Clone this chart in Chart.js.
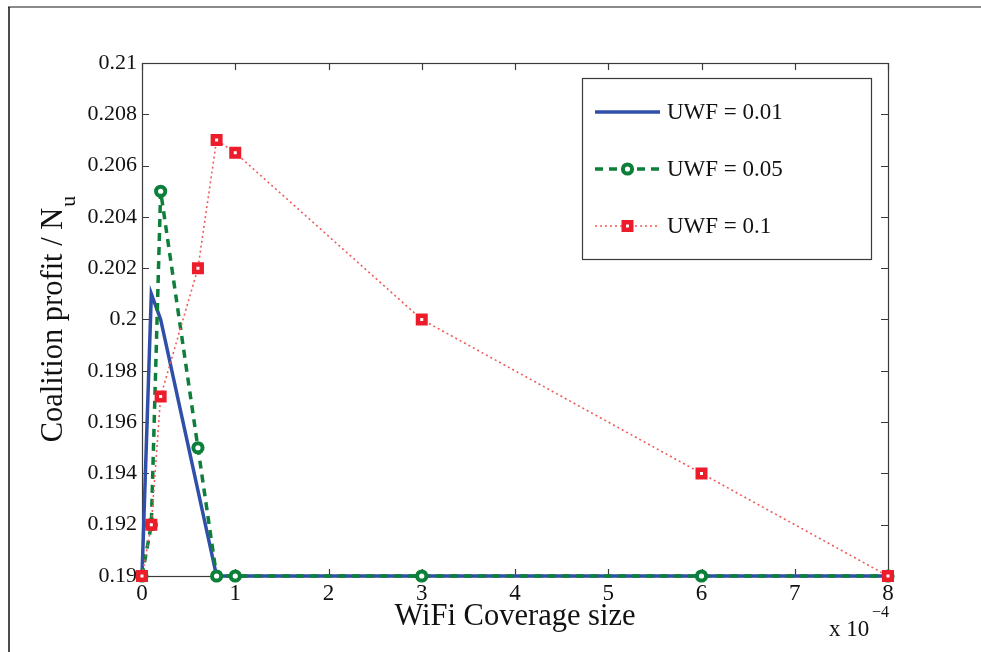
<!DOCTYPE html>
<html>
<head>
<meta charset="utf-8">
<script src="https://cdn.jsdelivr.net/npm/chart.js@4.4.1/dist/chart.umd.min.js"></script>
<style>
  html, body { margin: 0; padding: 0; background: #ffffff; }
  #wrap { width: 981px; height: 652px; position: relative; }
</style>
</head>
<body>
<div id="wrap"><canvas id="c" width="981" height="652"></canvas></div>
<script>
// WiFi coverage size (units of 1e-4) and coalition profit per user
const xUwf001 = [0, 0.1, 0.2, 0.8, 1, 3, 6, 8];
const yUwf001 = [0.19, 0.201, 0.2, 0.19, 0.19, 0.19, 0.19, 0.19];

const xUwf005 = [0, 0.1, 0.2, 0.6, 0.8, 1, 3, 6, 8];
const yUwf005 = [0.19, 0.192, 0.205, 0.195, 0.19, 0.19, 0.19, 0.19, 0.19];

const xUwf01 = [0, 0.1, 0.2, 0.6, 0.8, 1, 3, 6, 8];
const yUwf01 = [0.19, 0.192, 0.197, 0.202, 0.207, 0.2065, 0.2, 0.194, 0.19];

const seriesNames = ['UWF = 0.01', 'UWF = 0.05', 'UWF = 0.1'];
const xTicks = [0, 1, 2, 3, 4, 5, 6, 7, 8];
const yTicks = [0.19, 0.192, 0.194, 0.196, 0.198, 0.2, 0.202, 0.204, 0.206, 0.208, 0.21];
const xTitle = 'WiFi Coverage size';
const yTitleMain = 'Coalition profit / N';
const yTitleSub = 'u';
const xExponent = '\u22124';

const SERIF = '"Liberation Serif", "DejaVu Serif", serif';
const BLUE = '#2f4fa8';
const GREEN = '#0c7f3a';
const RED = '#ec1c2a';
const RED_LINE = '#f05a5a';

function pts(xs, ys) { return xs.map((x, i) => ({ x: x, y: ys[i] })); }

// Page frame, axes box with inward ticks, titles and legend
const decor = {
  id: 'decor',
  beforeDatasetsDraw(chart) {
    const ctx = chart.ctx;
    const a = chart.chartArea;
    const xs = chart.scales.x, ys = chart.scales.y;
    ctx.save();
    // page frame
    ctx.strokeStyle = '#8a8a8a';
    ctx.lineWidth = 2;
    ctx.beginPath(); ctx.moveTo(8, 7); ctx.lineTo(981, 7); ctx.stroke();
    ctx.strokeStyle = '#111111';
    ctx.lineWidth = 1.5;
    ctx.beginPath(); ctx.moveTo(9, 7); ctx.lineTo(9, 652); ctx.stroke();
    // axes box
    ctx.strokeStyle = '#3a3a3a';
    ctx.lineWidth = 1.2;
    ctx.strokeRect(Math.round(a.left) + 0.5, Math.round(a.top) + 0.5,
                   Math.round(a.right - a.left), Math.round(a.bottom - a.top));
    // inward ticks
    const L = 7;
    ctx.beginPath();
    xTicks.forEach(v => {
      const px = Math.round(xs.getPixelForValue(v)) + 0.5;
      ctx.moveTo(px, a.bottom); ctx.lineTo(px, a.bottom - L);
      ctx.moveTo(px, a.top); ctx.lineTo(px, a.top + L);
    });
    yTicks.forEach(v => {
      const py = Math.round(ys.getPixelForValue(v)) + 0.5;
      ctx.moveTo(a.left, py); ctx.lineTo(a.left + L, py);
      ctx.moveTo(a.right, py); ctx.lineTo(a.right - L, py);
    });
    ctx.stroke();
    ctx.restore();
  },
  afterDraw(chart) {
    const ctx = chart.ctx;
    const a = chart.chartArea;
    ctx.save();
    ctx.fillStyle = '#111111';
    // x title
    ctx.font = '30.5px ' + SERIF;
    ctx.textAlign = 'center';
    ctx.textBaseline = 'alphabetic';
    ctx.fillText(xTitle, (a.left + a.right) / 2, 625);
    // exponent note
    ctx.font = '23px ' + SERIF;
    ctx.textAlign = 'left';
    ctx.fillText('x 10', 829, 636);
    ctx.font = '16px ' + SERIF;
    ctx.fillText(xExponent, 872, 617);
    // y title with subscript
    ctx.translate(62, (a.top + a.bottom) / 2);
    ctx.rotate(-Math.PI / 2);
    ctx.font = '30.5px ' + SERIF;
    const wMain = ctx.measureText(yTitleMain).width;
    ctx.font = '22px ' + SERIF;
    const wSub = ctx.measureText(yTitleSub).width;
    const start = -(wMain + wSub) / 2;
    ctx.font = '30.5px ' + SERIF;
    ctx.fillText(yTitleMain, start, 0);
    ctx.font = '22px ' + SERIF;
    ctx.fillText(yTitleSub, start + wMain + 1, 13);
    ctx.restore();

    // legend
    const box = { l: 582, t: 78, r: 871, b: 259 };
    ctx.save();
    ctx.fillStyle = '#ffffff';
    ctx.fillRect(box.l, box.t, box.r - box.l, box.b - box.t);
    ctx.strokeStyle = '#3a3a3a';
    ctx.lineWidth = 1.2;
    ctx.strokeRect(box.l + 0.5, box.t + 0.5, box.r - box.l, box.b - box.t);
    const rows = [112, 169, 226];
    const x0 = 595, x1 = 660;
    chart.data.datasets.forEach((ds, i) => {
      const y = rows[i];
      ctx.save();
      ctx.strokeStyle = ds.borderColor;
      ctx.lineWidth = ds.borderWidth;
      ctx.setLineDash(ds.borderDash || []);
      ctx.beginPath(); ctx.moveTo(x0, y); ctx.lineTo(x1, y); ctx.stroke();
      ctx.setLineDash([]);
      if (ds.pointRadius > 0) {
        ctx.fillStyle = ds.pointBackgroundColor;
        ctx.strokeStyle = ds.pointBorderColor;
        ctx.lineWidth = ds.pointBorderWidth;
        ctx.beginPath();
        if (ds.pointStyle === 'rect') {
          const s = ds.pointRadius * Math.SQRT1_2;
          ctx.rect((x0 + x1) / 2 - s, y - s, 2 * s, 2 * s);
        } else {
          ctx.arc((x0 + x1) / 2, y, ds.pointRadius, 0, Math.PI * 2);
        }
        ctx.fill(); ctx.stroke();
      }
      ctx.restore();
      ctx.fillStyle = '#111111';
      ctx.font = '23px ' + SERIF;
      ctx.textAlign = 'left';
      ctx.textBaseline = 'middle';
      ctx.fillText(seriesNames[i], 667, y + 1);
    });
    ctx.restore();
  }
};

new Chart(document.getElementById('c'), {
  type: 'line',
  data: {
    datasets: [
      {
        label: seriesNames[0],
        data: pts(xUwf001, yUwf001),
        borderColor: BLUE,
        borderWidth: 3.5,
        pointRadius: 0,
        pointStyle: 'circle',
        tension: 0,
        clip: false,
        order: 2
      },
      {
        label: seriesNames[1],
        data: pts(xUwf005, yUwf005),
        borderColor: GREEN,
        borderWidth: 3.5,
        borderDash: [8, 6],
        pointStyle: 'circle',
        pointRadius: 4.6,
        pointBorderWidth: 4,
        pointBorderColor: GREEN,
        pointBackgroundColor: '#ffffff',
        tension: 0,
        clip: false,
        order: 1
      },
      {
        label: seriesNames[2],
        data: pts(xUwf01, yUwf01),
        borderColor: RED_LINE,
        borderWidth: 1.6,
        borderDash: [2, 3],
        pointStyle: 'rect',
        pointRadius: 5.3,
        pointBorderWidth: 4.5,
        pointBorderColor: RED,
        pointBackgroundColor: '#ffffff',
        tension: 0,
        clip: false,
        order: 0
      }
    ]
  },
  options: {
    responsive: false,
    animation: false,
    devicePixelRatio: 1,
    layout: { padding: { left: 0, top: 63, right: 93, bottom: 0 } },
    plugins: {
      legend: { display: false },
      tooltip: { enabled: false },
      title: { display: false }
    },
    scales: {
      x: {
        type: 'linear',
        min: 0,
        max: 8,
        afterBuildTicks: s => { s.ticks = xTicks.map(v => ({ value: v })); },
        afterFit: s => { s.height = 76; },
        grid: { display: false, drawTicks: false },
        border: { display: false },
        ticks: {
          color: '#111111',
          font: { family: SERIF, size: 23 },
          padding: 4,
          maxRotation: 0,
          callback: v => String(v)
        }
      },
      y: {
        type: 'linear',
        min: 0.19,
        max: 0.21,
        afterBuildTicks: s => { s.ticks = yTicks.map(v => ({ value: v })); },
        afterFit: s => { s.width = 142; },
        grid: { display: false, drawTicks: false },
        border: { display: false },
        ticks: {
          color: '#111111',
          font: { family: SERIF, size: 22 },
          padding: 5,
          callback: v => String(parseFloat(v.toFixed(3)))
        }
      }
    }
  },
  plugins: [decor]
});
</script>
</body>
</html>
